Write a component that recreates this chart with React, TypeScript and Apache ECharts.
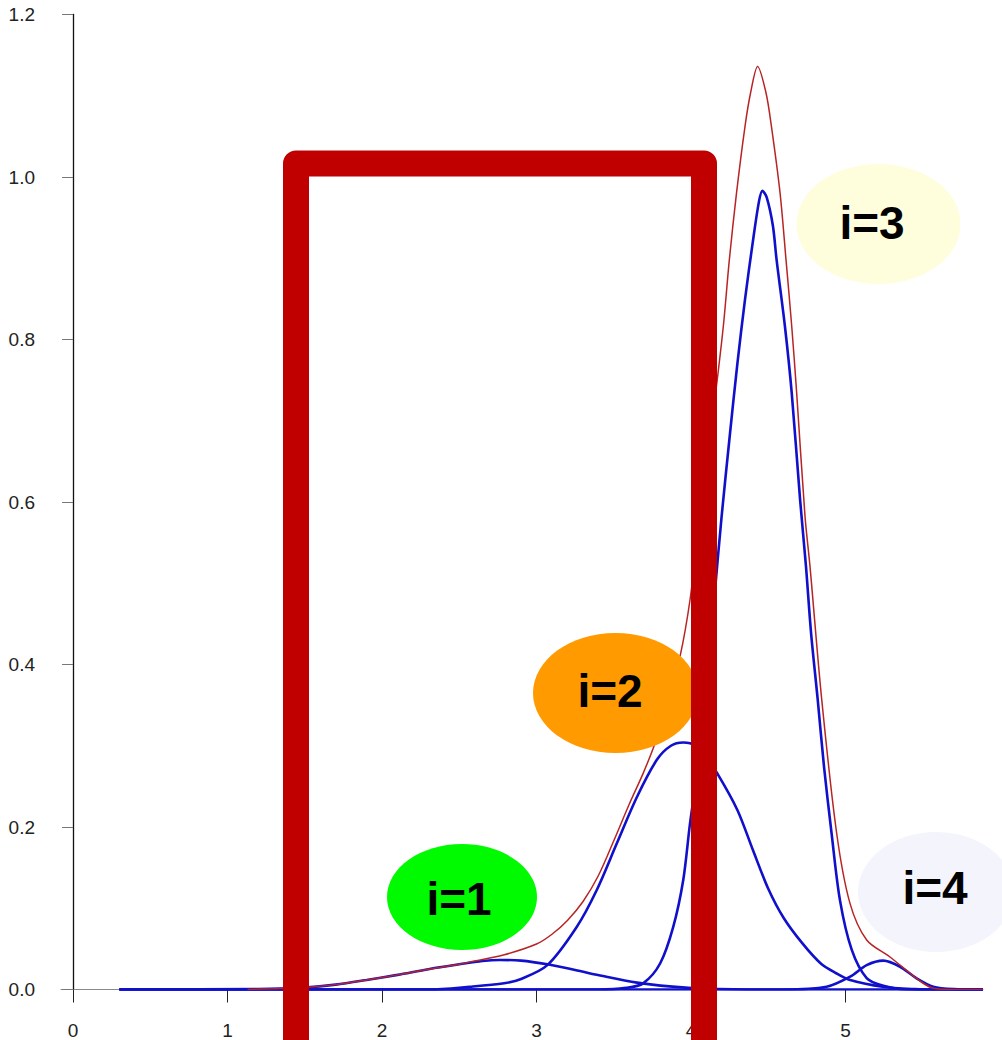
import React, { useEffect, useRef } from "react";
import * as echarts from "echarts";

// Values: [x, density]
const comp1: number[][] = [
  [0.3, 0], [1.2, 0.0006], [1.5, 0.0025], [1.7, 0.006], [1.9, 0.0117], [2.1, 0.018],
  [2.3, 0.025], [2.5, 0.031], [2.65, 0.035], [2.76, 0.0363], [2.9, 0.0355],
  [3.07, 0.031], [3.25, 0.024], [3.43, 0.0165], [3.65, 0.0085], [3.86, 0.0038],
  [4.1, 0.001], [4.5, 0], [5.89, 0],
];
const comp2: number[][] = [
  [0.3, 0], [2.3, 0], [2.57, 0.0034], [2.79, 0.0076], [2.9, 0.013], [3.07, 0.03],
  [3.26, 0.077], [3.39, 0.1225], [3.52, 0.18], [3.65, 0.237], [3.78, 0.283],
  [3.87, 0.3], [3.95, 0.304], [4.03, 0.3], [4.1, 0.285], [4.17, 0.266],
  [4.3, 0.221], [4.4, 0.172], [4.5, 0.124], [4.6, 0.088], [4.72, 0.057],
  [4.84, 0.032], [4.94, 0.02], [5.03, 0.0117], [5.24, 0.0034], [5.45, 0.0005],
  [5.6, 0], [5.89, 0],
];
const comp3: number[][] = [
  [0.3, 0], [3.4, 0], [3.58, 0.002], [3.69, 0.0076], [3.8, 0.032], [3.885, 0.077],
  [3.95, 0.135], [3.994, 0.205], [4.05, 0.28], [4.1, 0.37], [4.15, 0.48],
  [4.198, 0.582], [4.25, 0.68], [4.3, 0.77], [4.35, 0.85], [4.4, 0.92],
  [4.44, 0.97], [4.462, 0.983], [4.49, 0.975], [4.53, 0.94], [4.554, 0.898],
  [4.608, 0.816], [4.652, 0.734], [4.706, 0.603], [4.744, 0.521], [4.777, 0.439],
  [4.82, 0.357], [4.861, 0.274], [4.91, 0.192], [4.964, 0.11], [5.04, 0.049],
  [5.137, 0.014], [5.245, 0.0045], [5.4, 0], [5.89, 0],
];
const comp4: number[][] = [
  [0.3, 0], [4.6, 0], [4.878, 0.0034], [5.03, 0.0158], [5.137, 0.03], [5.245, 0.0355],
  [5.353, 0.028], [5.46, 0.0138], [5.568, 0.0034], [5.7, 0.0005], [5.89, 0],
];
const mixture: number[][] = [
  [1.13, 0], [1.3, 0.0009], [1.5, 0.0025], [1.7, 0.006], [1.9, 0.0117], [2.1, 0.018],
  [2.3, 0.025], [2.5, 0.031], [2.57, 0.034], [2.785, 0.0425], [3.0, 0.056],
  [3.1, 0.068], [3.2, 0.085], [3.3, 0.108], [3.4, 0.14], [3.5, 0.183],
  [3.6, 0.228], [3.69, 0.266], [3.767, 0.303], [3.85, 0.355], [3.929, 0.41],
  [3.994, 0.48], [4.05, 0.57], [4.1, 0.65], [4.15, 0.72], [4.209, 0.816],
  [4.248, 0.898], [4.295, 0.981], [4.35, 1.063], [4.386, 1.104], [4.431, 1.136],
  [4.485, 1.104], [4.52, 1.063], [4.576, 0.981], [4.615, 0.898], [4.652, 0.816],
  [4.684, 0.734], [4.738, 0.582], [4.77, 0.521], [4.846, 0.357], [4.943, 0.192],
  [5.029, 0.106], [5.137, 0.061], [5.288, 0.04], [5.417, 0.02], [5.5, 0.008],
  [5.568, 0.0015], [5.7, 0], [5.89, 0],
];

const xTicks = [0, 1, 2, 3, 4, 5];
const labels = [
  { text: "i=1", cx: 462, cy: 897, rx: 75, ry: 53, fill: "#00FA00", tx: 459, ty: 899 },
  { text: "i=2", cx: 615.5, cy: 693, rx: 82.5, ry: 60, fill: "#FF9A00", tx: 610, ty: 691 },
  { text: "i=3", cx: 878.5, cy: 224, rx: 82, ry: 60, fill: "#FEFEDC", tx: 872, ty: 223 },
  { text: "i=4", cx: 936, cy: 892, rx: 78, ry: 60, fill: "#F4F5FC", tx: 935, ty: 888 },
];

const BLUE = "#1010CC";
const RED = "#B82424";

export default function App() {
  const ref = useRef<HTMLDivElement>(null);
  useEffect(() => {
    if (!ref.current) return;
    const chart = echarts.init(ref.current, null, { renderer: "svg" });
    const blueSeries = [comp1, comp2, comp3, comp4].map((d, i) => ({
      type: "line",
      name: "component " + (i + 1),
      data: d,
      showSymbol: false,
      smooth: 0.3,
      lineStyle: { color: BLUE, width: 2.6 },
      z: 2,
    }));
    const graphics: any[] = [];
    labels.forEach((l) => {
      graphics.push({
        type: "ellipse",
        shape: { cx: l.cx, cy: l.cy, rx: l.rx, ry: l.ry },
        style: { fill: l.fill },
        z: 10,
      });
    });
    graphics.push({
      type: "rect",
      shape: { x: 296, y: 163.5, width: 408, height: 1000 },
      style: { fill: "none", stroke: "#C00000", lineWidth: 26, lineJoin: "round" },
      z: 11,
    });
    labels.forEach((l) => {
      graphics.push({
        type: "text",
        x: l.tx,
        y: l.ty,
        style: {
          text: l.text,
          fontSize: 46,
          fontWeight: "bold",
          fontFamily: "Liberation Sans, Arial, sans-serif",
          fill: "#000",
          align: "center",
          verticalAlign: "middle",
        },
        z: 12,
      });
    });
    chart.setOption({
      animation: false,
      backgroundColor: "#fff",
      grid: { left: 61, right: 19, top: 14.5, bottom: 50.5, containLabel: false },
      xAxis: {
        type: "value",
        min: -0.078,
        max: 5.89,
        splitLine: { show: false },
        axisLine: { show: true, onZero: true, lineStyle: { color: "#8a8a8a", width: 1 } },
        axisTick: { show: true, length: 13, customValues: xTicks, lineStyle: { color: "#222", width: 1 } },
        axisLabel: {
          customValues: xTicks,
          fontSize: 19,
          color: "#222",
          margin: 31,
          fontFamily: "Liberation Sans, Arial, sans-serif",
        },
      },
      yAxis: {
        type: "value",
        min: 0,
        max: 1.2,
        interval: 0.2,
        splitLine: { show: false },
        axisLine: { show: true, onZero: true, lineStyle: { color: "#111", width: 1.3 } },
        axisTick: { show: true, length: 11, lineStyle: { color: "#777", width: 1 } },
        axisLabel: {
          fontSize: 19,
          color: "#222",
          margin: 26,
          fontFamily: "Liberation Sans, Arial, sans-serif",
          formatter: (v: number) => v.toFixed(1),
        },
      },
      series: [
        ...blueSeries,
        {
          type: "line",
          name: "mixture",
          data: mixture,
          showSymbol: false,
          smooth: 0.3,
          lineStyle: { color: RED, width: 1.5 },
          z: 3,
        },
      ],
      graphic: graphics,
    });
    return () => chart.dispose();
  }, []);
  return (
    <div
      ref={ref}
      style={{ position: "absolute", left: 0, top: 0, width: 1002, height: 1040 }}
    />
  );
}
